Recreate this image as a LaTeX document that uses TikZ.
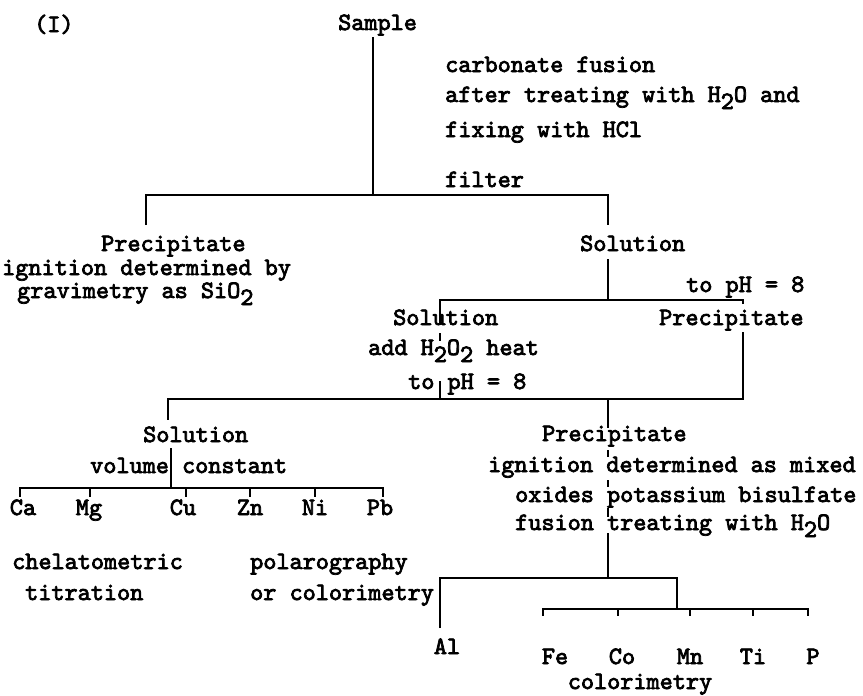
\documentclass[tikz,border=0pt]{standalone}
\usepackage{fontspec}
\newfontfamily\tw{lmmono10-regular.otf}[FakeBold=3]
\newcommand{\dn}[1]{\raisebox{-7pt}{#1}}
\begin{document}
\begin{tikzpicture}[x=1pt,y=-1pt,
  lbl/.style={font={\tw\fontsize{25}{30}\selectfont}, inner sep=0pt, anchor=base west},
  el/.style={font={\tw\fontsize{25}{30}\selectfont}, inner sep=0pt, anchor=base},
  ln/.style={line width=1.6pt}]
\useasboundingbox (0,0) rectangle (863,696);
% texts
\node[lbl] (t0) at (34,32) {(I)};
\node[lbl] (sample) at (338,30) {Sample};
\node[lbl] (c1) at (445,72) {carbonate fusion};
\node[lbl] (c2) at (445,102) {after treating with H\dn{2}O and};
\node[lbl] (c3) at (445,137) {fixing with HCl};
\node[lbl] (c4) at (445,187) {filter};
\node[lbl] (p1) at (101,251) {Precipitate};
\node[lbl] (p1a) at (2,275) {ignition determined by};
\node[lbl] (p1b) at (17,298) {gravimetry as SiO\dn{2}};
\node[lbl] (s1) at (580,251) {Solution};
\node[lbl] (ph1) at (686,292) {to pH = 8};
\node[lbl] (s2) at (393,325) {Solution};
\node[lbl] (p2) at (659,325) {Precipitate};
\node[lbl] (a1) at (368,355) {add H\dn{2}O\dn{2} heat};
\node[lbl] (ph2) at (408,389) {to pH = 8};
\node[lbl] (s3) at (143,442) {Solution};
\node[lbl] (v1) at (90,473) {volume constant};
\node[el] (ca) at (23,515) {Ca};
\node[el] (mg) at (89,515) {Mg};
\node[el] (cu) at (183,515) {Cu};
\node[el] (zn) at (250,515) {Zn};
\node[el] (ni) at (315,515) {Ni};
\node[el] (pb) at (380,515) {Pb};
\node[lbl] (ch1) at (12,569) {chelatometric};
\node[lbl] (ch2) at (25,600) {titration};
\node[lbl] (po1) at (250,569) {polarography};
\node[lbl] (po2) at (250,600) {or colorimetry};
\node[lbl] (p3) at (542,441) {Precipitate};
\node[lbl] (r1) at (488,472) {ignition determined as mixed};
\node[lbl] (r2) at (515,502) {oxides potassium bisulfate};
\node[lbl] (r3) at (515,530) {fusion treating with H\dn{2}O};
\node[el] (al) at (447,654) {Al};
\node[el] (fe) at (555,664) {Fe};
\node[el] (co) at (622,664) {Co};
\node[el] (mn) at (690,664) {Mn};
\node[el] (ti) at (753,664) {Ti};
\node[el] (pp) at (813,664) {P};
\node[el] (col) at (640,689) {colorimetry};
% junction coordinates
\coordinate (st) at (373,37);
\coordinate (j0) at (373,195);
\coordinate (j0l) at (146,195);
\coordinate (j0r) at (608,195);
\coordinate (e0l) at (146,225);
\coordinate (e0r) at (608,225);
\coordinate (s1b) at (608,259);
\coordinate (j1) at (608,300);
\coordinate (j1l) at (440,300);
\coordinate (j1r) at (743,300);
\coordinate (j1rs) at (743,304);
\coordinate (p2b) at (743,332);
\coordinate (x1) at (440,324);
\coordinate (x2) at (440,333);
\coordinate (x3) at (440,341);
\coordinate (x4) at (440,381);
\coordinate (j2l) at (440,399);
\coordinate (j2r) at (743,399);
\coordinate (j2m) at (608,399);
\coordinate (j2L) at (168,399);
\coordinate (e2L) at (168,420);
\coordinate (s3b) at (171,448);
\coordinate (j3) at (171,488);
\coordinate (j3a) at (20,488);
\coordinate (j3b) at (383,488);
\coordinate (m1) at (608,428);
\coordinate (m2) at (608,450);
\coordinate (m3) at (608,457);
\coordinate (m4) at (608,480);
\coordinate (m5) at (608,487);
\coordinate (m6) at (608,508);
\coordinate (m7) at (608,517);
\coordinate (m8) at (608,533);
\coordinate (j4) at (608,578);
\coordinate (j4l) at (440,578);
\coordinate (j4r) at (677,578);
\coordinate (alt) at (440,628);
\coordinate (j5) at (677,609);
\coordinate (j5a) at (543,609);
\coordinate (j5b) at (808,609);
% connectors
\draw[ln] (st) -- (j0);
\draw[ln] (e0l) -- (j0l) -- (j0r) -- (e0r);
\draw[ln] (s1b) -- (j1);
\draw[ln] (j1rs) -- (j1r) -- (j1l) -- (x1);
\draw[ln] (x2) -- (x3);
\draw[ln] (x4) -- (j2l);
\draw[ln] (p2b) -- (j2r) -- (j2L) -- (e2L);
\draw[ln] (s3b) -- (j3);
\draw[ln] (j3a) -- (j3b);
\foreach \x in {20,90,186,250,315,383} \draw[ln] (\x,487) -- (\x,497);
\draw[ln] (j2m) -- (m1);
\draw[ln] (m2) -- (m3);
\draw[ln] (m4) -- (m5);
\draw[ln] (m6) -- (m7);
\draw[ln] (m8) -- (j4);
\draw[ln] (alt) -- (j4l) -- (j4r) -- (j5);
\draw[ln] (j5a) -- (j5b);
\foreach \x in {543,618,690,753,808} \draw[ln] (\x,608) -- (\x,616);
\end{tikzpicture}
\end{document}
